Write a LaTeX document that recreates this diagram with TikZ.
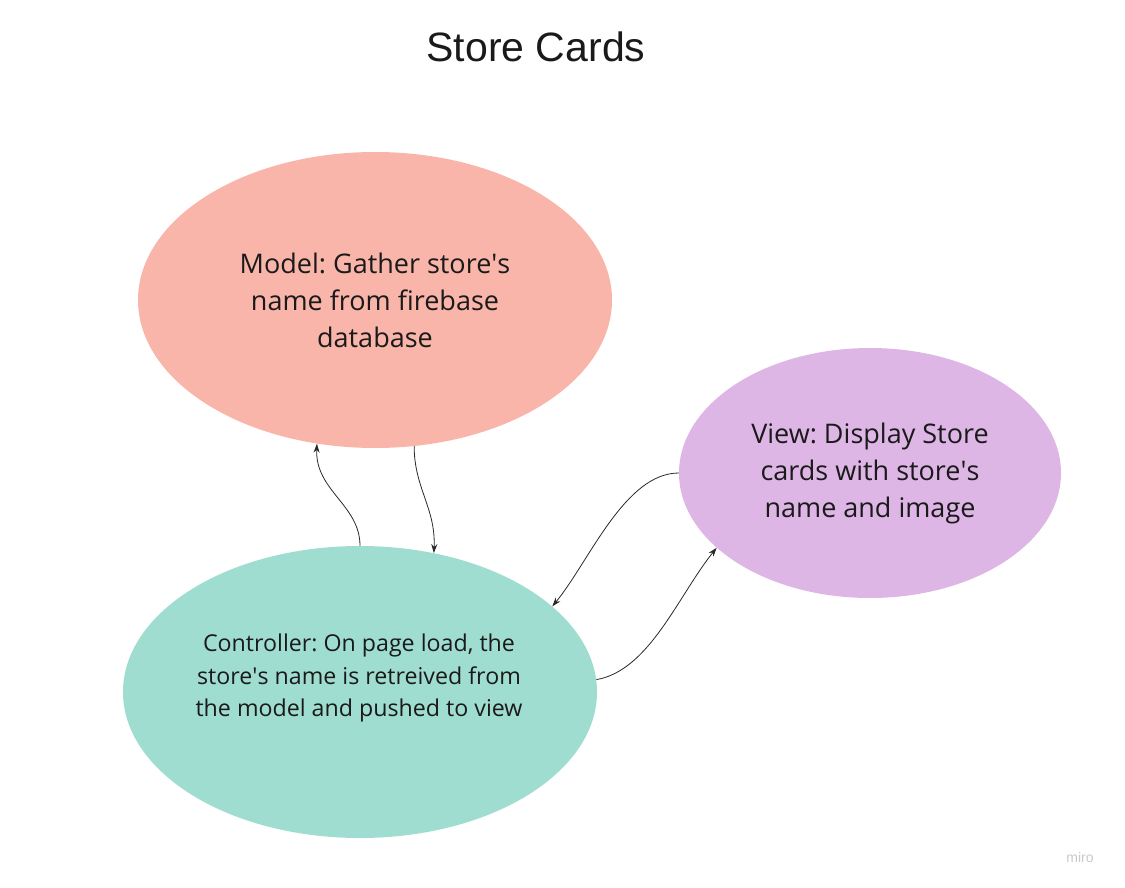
\documentclass[tikz,border=0pt]{standalone}
\usepackage{fontspec}
\setmainfont{Open Sans}
\newfontfamily\titlefont{Liberation Sans}
\usetikzlibrary{arrows.meta,shapes.geometric}
\frenchspacing
\definecolor{modelc}{RGB}{249,181,169}
\definecolor{ctrlc}{RGB}{159,221,208}
\definecolor{viewc}{RGB}{222,182,230}
\definecolor{txt}{RGB}{26,26,26}
\definecolor{wire}{RGB}{40,40,40}
\tikzset{
  blob/.style={ellipse, inner sep=0pt, draw=none},
  lbl/.style={align=center, text=txt, inner sep=0pt},
  link/.style={wire, line width=0.8pt, -{Stealth[length=9pt,width=6pt]}}
}
\begin{document}
\begin{tikzpicture}[x=1pt,y=-1pt]
\useasboundingbox (0,0) rectangle (1125,888);
\node[blob, fill=modelc, minimum width=474pt, minimum height=296pt] (model) at (375,300) {};
\node[blob, fill=viewc, minimum width=382pt, minimum height=250pt] (view) at (870,473) {};
\node[blob, fill=ctrlc, minimum width=474pt, minimum height=292pt] (ctrl) at (360,692) {};
\node[lbl, font=\fontsize{27}{37}\selectfont] (modeltxt) at (375,300) {Model: Gather store\textquotesingle s\\name from firebase\\database};
\node[lbl, font=\fontsize{27}{37}\selectfont] (viewtxt) at (870,473) {View: Display Store\\cards with store\textquotesingle s\\name and image};
\node[lbl, font=\fontsize{23.2}{32.5}\selectfont] (ctrltxt) at (359,678) {Controller: On page load, the\\store\textquotesingle s name is retreived from\\the model and pushed to view};
\node[lbl, font=\titlefont\fontsize{41}{48}\selectfont] (title) at (536,47) {Store Cards};
\node[lbl, text={rgb,255:red,200;green,200;blue,200}, font=\titlefont\fontsize{14}{16}\selectfont] (miro) at (1080,857) {miro};
\draw[link] (ctrl.north) .. controls +(0,-41) and +(-2,47) .. (model.248);
\draw[link] (model.285) .. controls +(0,42) and +(2,-45) .. (ctrl.62.5);
\draw[link] (view.west) .. controls +(-54,0) and +(37,-45) .. (ctrl.24.3);
\draw[link] (ctrl.3) .. controls +(53,-9) and +(-38,47) .. (view.206);
\end{tikzpicture}
\end{document}
